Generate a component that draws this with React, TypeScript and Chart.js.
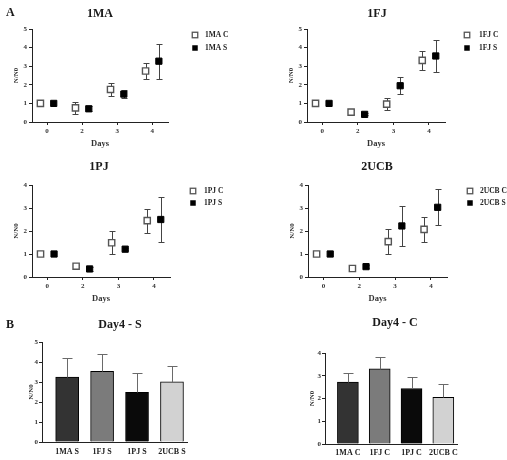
import React, { useEffect, useRef } from "react";
import { Chart, registerables } from "chart.js";

Chart.register(...registerables);

const FONT = "'Liberation Serif', 'Times New Roman', serif";

// ---- Panel A data (days 0, 2, 3, 4) ----
const dayLabels = ["0", "2", "3", "4"];

const ma_C = [1.0, 0.76, 1.75, 2.74];
const ma_C_sd = [0, 0.31, 0.36, 0.41];
const ma_S = [1.0, 0.71, 1.5, 3.27];
const ma_S_sd = [0, 0.14, 0.23, 0.95];

const fj_C = [1.0, 0.53, 0.96, 3.31];
const fj_C_sd = [0, 0.1, 0.33, 0.51];
const fj_S = [1.0, 0.41, 1.95, 3.55];
const fj_S_sd = [0, 0.05, 0.45, 0.86];

const pj_C = [1.0, 0.47, 1.49, 2.45];
const pj_C_sd = [0, 0.05, 0.5, 0.52];
const pj_S = [1.0, 0.35, 1.21, 2.5];
const pj_S_sd = [0, 0.07, 0.04, 0.96];

const ucb_C = [1.0, 0.37, 1.54, 2.07];
const ucb_C_sd = [0, 0.04, 0.53, 0.55];
const ucb_S = [1.0, 0.45, 2.22, 3.03];
const ucb_S_sd = [0, 0.06, 0.86, 0.78];

// ---- Panel B data (day 4) ----
const day4Labels_S = ["1MA S", "1FJ S", "1PJ S", "2UCB S"];
const day4_S = [3.25, 3.53, 2.48, 3.01];
const day4_S_sd = [0.95, 0.87, 0.97, 0.78];

const day4Labels_C = ["1MA C", "1FJ C", "1PJ C", "2UCB C"];
const day4_C = [2.72, 3.3, 2.44, 2.05];
const day4_C_sd = [0.41, 0.51, 0.52, 0.57];

const barColors = ["#333333", "#7b7b7b", "#0a0a0a", "#d2d2d2"];

type Box = { left: number; top: number; w: number; h: number };
type TextItem = { t: string; x: number; y: number; size: number; align?: CanvasTextAlign };
type LegendItem = { x: number; tx: number; y: number; label: string; filled: boolean };

function decoPlugin(box: Box, texts: TextItem[], legend: LegendItem[]) {
  return {
    id: "deco",
    afterDraw(chart: any) {
      const ctx = chart.ctx as CanvasRenderingContext2D;
      ctx.save();
      ctx.textBaseline = "middle";
      ctx.fillStyle = "#1a1a1a";
      for (const t of texts) {
        ctx.font = `bold ${t.size}px ${FONT}`;
        ctx.textAlign = t.align ?? "center";
        ctx.fillText(t.t, t.x - box.left, t.y - box.top);
      }
      for (const l of legend) {
        const cx = l.x - box.left;
        const cy = l.y - box.top;
        const s = 5.5;
        if (l.filled) {
          ctx.fillStyle = "#000";
          ctx.fillRect(cx - s / 2, cy - s / 2, s, s);
        } else {
          ctx.fillStyle = "#fff";
          ctx.fillRect(cx - s / 2, cy - s / 2, s, s);
          ctx.strokeStyle = "#555";
          ctx.lineWidth = 1.3;
          ctx.strokeRect(cx - s / 2, cy - s / 2, s, s);
        }
        ctx.fillStyle = "#222";
        ctx.font = `bold 7.5px ${FONT}`;
        ctx.textAlign = "left";
        ctx.fillText(l.label, l.tx - box.left, cy + 0.5);
      }
      ctx.restore();
    },
  };
}

function errPlugin(sds: number[][], capHalf: number, upOnly: boolean, color: string, before: boolean) {
  const draw = (chart: any) => {
    const ctx = chart.ctx as CanvasRenderingContext2D;
    const yScale = chart.scales.y;
    ctx.save();
    ctx.strokeStyle = color;
    ctx.lineWidth = 1;
    chart.data.datasets.forEach((ds: any, di: number) => {
      const meta = chart.getDatasetMeta(di);
      meta.data.forEach((el: any, i: number) => {
        const sd = sds[di][i];
        if (!sd) return;
        const v = ds.data[i].y;
        const x = Math.round(el.x) + 0.5;
        const yTop = Math.round(yScale.getPixelForValue(v + sd)) + 0.5;
        const yBot = Math.round(yScale.getPixelForValue(upOnly ? v : v - sd)) + 0.5;
        ctx.beginPath();
        ctx.moveTo(x, yTop);
        ctx.lineTo(x, yBot);
        ctx.moveTo(x - capHalf, yTop);
        ctx.lineTo(x + capHalf, yTop);
        if (!upOnly) {
          ctx.moveTo(x - capHalf, yBot);
          ctx.lineTo(x + capHalf, yBot);
        }
        ctx.stroke();
      });
    });
    ctx.restore();
  };
  return before ? { id: "err", beforeDatasetsDraw: draw } : { id: "err", afterDatasetsDraw: draw };
}

const tickFont = { family: FONT, size: 7, weight: "bold" as const };

type ScatterPanel = {
  box: Box;
  c: number[];
  cSd: number[];
  s: number[];
  sSd: number[];
  names: [string, string];
  title: string;
  titlePos: [number, number];
  legend: [number, number, number, number];
  yMax: number;
  pt: number;
  pr: number;
  extra?: TextItem[];
};

function scatterConfig(p: ScatterPanel): any {
  const off = 0.19;
  const texts: TextItem[] = [{ t: p.title, x: p.titlePos[0], y: p.titlePos[1], size: 12 }, ...(p.extra ?? [])];
  const [lx, ltx, ly1, ly2] = p.legend;
  const legend: LegendItem[] = [
    { x: lx, tx: ltx, y: ly1, label: p.names[0], filled: false },
    { x: lx, tx: ltx, y: ly2, label: p.names[1], filled: true },
  ];
  return {
    type: "scatter",
    data: {
      datasets: [
        {
          label: p.names[0],
          data: p.c.map((v, i) => ({ x: i - off, y: v })),
          pointStyle: "rect",
          pointRadius: 4.4,
          backgroundColor: "#ffffff",
          borderColor: "#555555",
          borderWidth: 1.4,
        },
        {
          label: p.names[1],
          data: p.s.map((v, i) => ({ x: i + off, y: v })),
          pointStyle: "rect",
          pointRadius: 4.4,
          backgroundColor: "#000000",
          borderColor: "#000000",
          borderWidth: 1,
        },
      ],
    },
    options: {
      responsive: false,
      animation: false,
      events: [],
      layout: { padding: { left: 0, right: p.pr, top: p.pt, bottom: 0 } },
      plugins: { legend: { display: false }, tooltip: { enabled: false }, title: { display: false } },
      scales: {
        x: {
          type: "linear",
          min: -0.43,
          max: 3.45,
          afterBuildTicks: (s: any) => {
            s.ticks = dayLabels.map((_, i) => ({ value: i }));
          },
          afterFit: (s: any) => {
            s.height = 38;
          },
          ticks: {
            callback: (v: number) => dayLabels[v],
            font: tickFont,
            color: "#333",
            padding: 1.5,
            maxRotation: 0,
            autoSkip: false,
          },
          grid: { drawOnChartArea: false, drawTicks: true, tickLength: 3, color: "#222" },
          border: { color: "#222", width: 1 },
          title: {
            display: true,
            text: "Days",
            font: { family: FONT, size: 8.5, weight: "bold" },
            color: "#333",
            padding: { top: 0, bottom: 11 },
          },
        },
        y: {
          type: "linear",
          min: 0,
          max: p.yMax,
          afterFit: (s: any) => {
            s.width = 32;
          },
          ticks: { stepSize: 1, font: tickFont, color: "#333", padding: 2 },
          grid: { drawOnChartArea: false, drawTicks: true, tickLength: 3, color: "#222" },
          border: { color: "#222", width: 1 },
          title: {
            display: true,
            text: "N/N0",
            font: { family: FONT, size: 7, weight: "bold" },
            color: "#333",
            padding: { top: 11.8, bottom: 0 },
          },
        },
      },
    },
    plugins: [errPlugin([p.cSd, p.sSd], 3, false, "#444", true), decoPlugin(p.box, texts, legend)],
  };
}

type BarPanel = {
  box: Box;
  labels: string[];
  vals: number[];
  sds: number[];
  title: string;
  titlePos: [number, number];
  yMax: number;
  pl: number;
  pt: number;
  pr: number;
  xH: number;
  yTitlePad: number;
  labelPad: number;
  thickness: number;
  extra?: TextItem[];
};

function barConfig(p: BarPanel): any {
  const texts: TextItem[] = [{ t: p.title, x: p.titlePos[0], y: p.titlePos[1], size: 12 }, ...(p.extra ?? [])];
  return {
    type: "bar",
    data: {
      datasets: [
        {
          label: p.title,
          data: p.vals.map((v, i) => ({ x: i, y: v })),
          backgroundColor: barColors,
          borderColor: "#000",
          borderWidth: 1,
          barThickness: p.thickness,
        },
      ],
    },
    options: {
      responsive: false,
      animation: false,
      events: [],
      layout: { padding: { left: p.pl, right: p.pr, top: p.pt, bottom: 0 } },
      plugins: { legend: { display: false }, tooltip: { enabled: false } },
      scales: {
        x: {
          type: "linear",
          offset: false,
          min: -0.72,
          max: 3.43,
          afterBuildTicks: (s: any) => {
            s.ticks = p.labels.map((_, i) => ({ value: i }));
          },
          afterFit: (s: any) => {
            s.height = p.xH;
          },
          ticks: {
            callback: (v: number) => p.labels[v],
            font: { family: FONT, size: 8, weight: "bold" },
            color: "#222",
            padding: p.labelPad,
            maxRotation: 0,
            autoSkip: false,
          },
          grid: { display: false, drawTicks: false, offset: false },
          border: { color: "#222", width: 1 },
        },
        y: {
          type: "linear",
          min: 0,
          max: p.yMax,
          afterFit: (s: any) => {
            s.width = 32;
          },
          ticks: { stepSize: 1, font: tickFont, color: "#333", padding: 1 },
          grid: { drawOnChartArea: false, drawTicks: true, tickLength: 3, color: "#222" },
          border: { color: "#222", width: 1 },
          title: {
            display: true,
            text: "N/N0",
            font: { family: FONT, size: 7, weight: "bold" },
            color: "#333",
            padding: { top: p.yTitlePad, bottom: 0 },
          },
        },
      },
    },
    plugins: [errPlugin([p.sds], 5, true, "#6a6a6a", false), decoPlugin(p.box, texts, [])],
  };
}

function ChartCanvas({ box, config }: { box: Box; config: () => any }) {
  const ref = useRef<HTMLCanvasElement>(null);
  useEffect(() => {
    const chart = new Chart(ref.current as HTMLCanvasElement, config());
    return () => chart.destroy();
  }, []);
  return (
    <div style={{ position: "absolute", left: box.left, top: box.top, width: box.w, height: box.h }}>
      <canvas ref={ref} width={box.w} height={box.h} style={{ width: box.w, height: box.h, display: "block" }} />
    </div>
  );
}

const scatterPanels: ScatterPanel[] = [
  {
    box: { left: 0, top: 0, w: 250, h: 160 },
    c: ma_C, cSd: ma_C_sd, s: ma_S, sSd: ma_S_sd,
    names: ["1MA C", "1MA S"], title: "1MA", titlePos: [100, 14],
    legend: [195, 205, 35, 48], yMax: 5, pt: 29, pr: 82,
    extra: [{ t: "A", x: 6, y: 13, size: 12, align: "left" }],
  },
  {
    box: { left: 275, top: 0, w: 232, h: 160 },
    c: fj_C, cSd: fj_C_sd, s: fj_S, sSd: fj_S_sd,
    names: ["1FJ C", "1FJ S"], title: "1FJ", titlePos: [377, 14],
    legend: [467, 479, 35, 48], yMax: 5, pt: 29, pr: 62,
  },
  {
    box: { left: 0, top: 160, w: 250, h: 155 },
    c: pj_C, cSd: pj_C_sd, s: pj_S, sSd: pj_S_sd,
    names: ["1PJ C", "1PJ S"], title: "1PJ", titlePos: [99, 167],
    legend: [193, 204, 191, 203], yMax: 4, pt: 25, pr: 80,
  },
  {
    box: { left: 276, top: 160, w: 231, h: 155 },
    c: ucb_C, cSd: ucb_C_sd, s: ucb_S, sSd: ucb_S_sd,
    names: ["2UCB C", "2UCB S"], title: "2UCB", titlePos: [377, 167],
    legend: [470, 480, 191, 203], yMax: 4, pt: 25, pr: 60,
  },
];

const barPanels: BarPanel[] = [
  {
    box: { left: 0, top: 315, w: 250, h: 145 },
    labels: day4Labels_S, vals: day4_S, sds: day4_S_sd,
    title: "Day4 - S", titlePos: [120, 325], yMax: 5,
    pl: 10, pt: 27, pr: 63, xH: 18, yTitlePad: 16.5, labelPad: 5, thickness: 23,
    extra: [{ t: "B", x: 6, y: 325, size: 12, align: "left" }],
  },
  {
    box: { left: 293, top: 315, w: 214, h: 145 },
    labels: day4Labels_C, vals: day4_C, sds: day4_C_sd,
    title: "Day4 - C", titlePos: [395, 323], yMax: 4,
    pl: 0, pt: 38, pr: 50, xH: 16, yTitlePad: 14.8, labelPad: 4, thickness: 21,
  },
];

export default function App() {
  return (
    <div style={{ position: "absolute", left: 0, top: 0, width: 507, height: 460, background: "#fff", overflow: "hidden" }}>
      {scatterPanels.map((p) => (
        <ChartCanvas key={p.title} box={p.box} config={() => scatterConfig(p)} />
      ))}
      {barPanels.map((p) => (
        <ChartCanvas key={p.title} box={p.box} config={() => barConfig(p)} />
      ))}
    </div>
  );
}
